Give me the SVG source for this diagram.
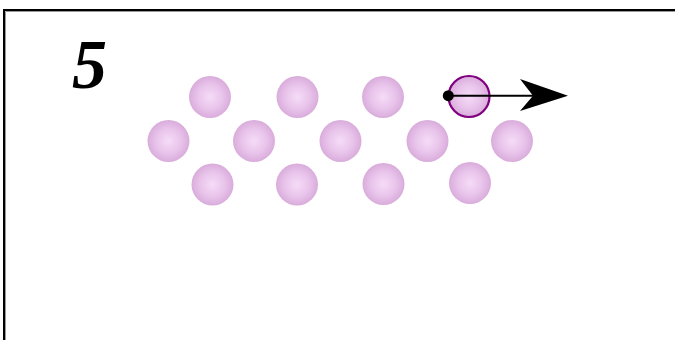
<svg xmlns="http://www.w3.org/2000/svg" width="675" height="340" viewBox="0 0 675 340">
<defs>
<radialGradient id="ball" cx="0.5" cy="0.5" r="0.5">
<stop offset="0" stop-color="#f6dcf8"/>
<stop offset="0.6" stop-color="#e8c3ea"/>
<stop offset="1" stop-color="#d9acdb"/>
</radialGradient>
<style>
.b{fill:url(#ball)}
.sel{stroke:#800080;stroke-width:2.2}
.ln{stroke:#000;stroke-width:2;fill:none}
</style>
</defs>
<rect x="0" y="0" width="675" height="340" fill="#fff"/>
<g id="frame">
<path d="M4 340 V10 H675" stroke="#000" stroke-width="2" fill="none"/>
<path d="M5.5 340 V11.5 H675" stroke="#999" stroke-width="1" fill="none"/>
</g>
<text x="72" y="88" font-family="Liberation Serif, serif" font-weight="bold" font-style="italic" font-size="70" fill="#000">5</text>
<g id="atoms">
<circle id="t1" class="b" cx="210" cy="97" r="21"/>
<circle id="t2" class="b" cx="297.5" cy="97" r="21"/>
<circle id="t3" class="b" cx="383" cy="97" r="21"/>
<circle id="m1" class="b" cx="168.5" cy="141" r="21"/>
<circle id="m2" class="b" cx="254" cy="141" r="21"/>
<circle id="m3" class="b" cx="340.5" cy="141" r="21"/>
<circle id="m4" class="b" cx="427.5" cy="141" r="21"/>
<circle id="m5" class="b" cx="512" cy="141" r="21"/>
<circle id="b1" class="b" cx="212.5" cy="184.5" r="21"/>
<circle id="b2" class="b" cx="297" cy="184.5" r="21"/>
<circle id="b3" class="b" cx="383.5" cy="184" r="21"/>
<circle id="b4" class="b" cx="470" cy="183" r="21"/>
</g>
<g id="moving">
<circle class="b sel" cx="469" cy="96.5" r="20.5"/>
</g>
<g id="connectors">
<line class="ln" x1="448" y1="95.7" x2="540" y2="95.7"/>
<path d="M568 95.7 L520 79 L533 95.7 L520 111 Z" fill="#000"/>
<circle cx="448.3" cy="95.7" r="5.5" fill="#000"/>
</g>
</svg>
